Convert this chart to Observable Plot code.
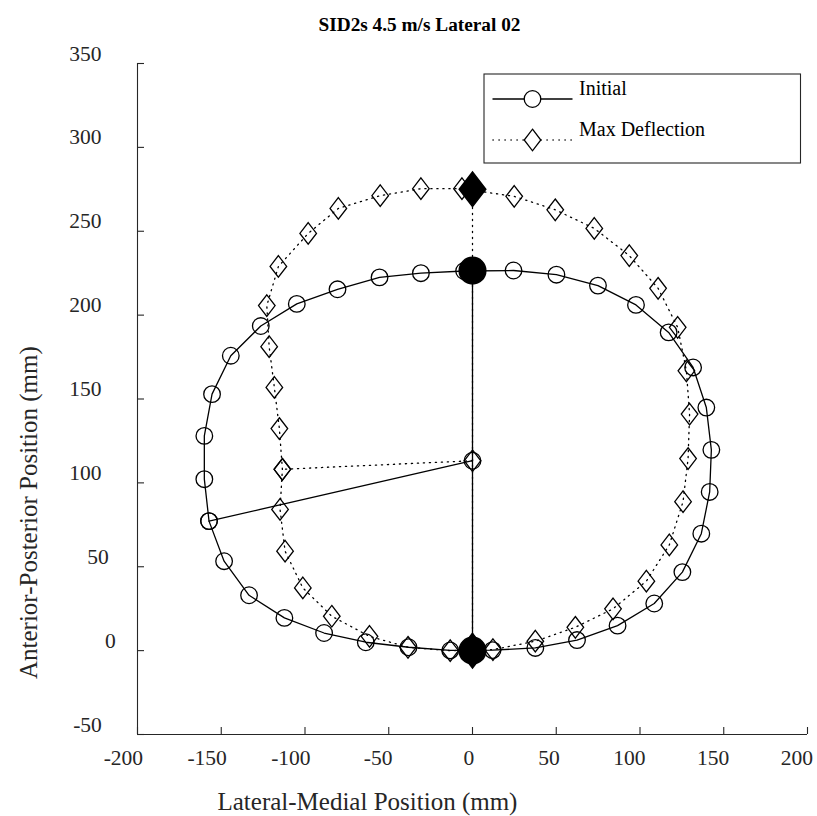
<!DOCTYPE html>
<html>
<head>
<meta charset="utf-8">
<script src="https://cdn.jsdelivr.net/npm/d3@7"></script>
<script src="https://cdn.jsdelivr.net/npm/@observablehq/plot@0.6"></script>
<style>
  html, body { margin: 0; padding: 0; background: #fff; }
  #chart svg { display: block; }
</style>
</head>
<body>
<div id="chart"></div>
<script>
// SID2s 4.5 m/s lateral test 02: thorax contour, initial vs. maximum deflection (mm)

const titleText = "SID2s 4.5 m/s Lateral 02";
const xLabel = "Lateral-Medial Position (mm)";
const yLabel = "Anterior-Posterior Position (mm)";
const seriesNames = ["Initial", "Max Deflection"];

const xTicks = [-200, -150, -100, -50, 0, 50, 100, 150, 200];
const yTicks = [-50, 0, 50, 100, 150, 200, 250, 300, 350];

// Initial contour, starting at the lateral gauge point and running over the anterior side
const initX = [-157.3, -160.1, -160.1, -155.5, -144.3, -126.4, -104.9, -80.6, -55.5, -30.8, -5.0,
  24.5, 50.1, 74.9, 97.6, 117.1, 131.7, 139.6, 142.6, 141.6, 136.6, 125.3, 108.5, 86.6, 62.4,
  37.5, 12.0, -13.3, -38.2, -63.7, -88.6, -112.3, -133.4, -148.3];
const initY = [77.2, 102.2, 128.0, 152.9, 175.8, 193.5, 206.7, 215.4, 222.5, 225.0, 226.3,
  226.6, 224.1, 217.6, 206.1, 189.7, 168.8, 144.9, 119.7, 94.6, 69.7, 46.8, 28.1, 14.9, 6.3,
  1.6, 0.3, 0.1, 2.0, 5.0, 10.5, 19.5, 33.0, 53.3];

// Contour at maximum deflection, same ordering
const defX = [-113.5, -115.3, -118.3, -121.4, -122.8, -115.9, -98.1, -80.1, -55.1, -30.8, -6.3,
  24.9, 49.4, 72.7, 93.6, 110.8, 122.5, 127.7, 129.6, 128.7, 125.7, 117.5, 103.8, 83.9, 61.4,
  37.5, 12.2, -13.3, -38.5, -61.5, -84.0, -101.3, -111.9, -114.9];
const defY = [108.1, 132.4, 156.9, 181.2, 205.7, 229.0, 248.7, 263.6, 271.2, 275.4, 275.4,
  270.8, 262.8, 251.7, 235.5, 216.0, 192.7, 166.8, 141.0, 114.5, 88.8, 63.0, 41.4, 24.9, 13.9,
  5.6, 0.6, 0.0, 2.0, 8.5, 20.5, 37.4, 59.3, 84.2];

// Anterior-posterior axis (anterior point first, posterior point second)
const initApX = [0, 0];
const initApY = [226.5, 0];
const defApX = [0, 0];
const defApY = [275.0, 0];

// Lateral spoke from the contour centre to the lateral point
const initSpokeX = [0, -157.3];
const initSpokeY = [113.2, 77.2];
const defSpokeX = [0, -113.5];
const defSpokeY = [113.2, 108.1];

// ---- drawing ----
const W = 817, H = 816;
const M = {top: 63, right: 10, bottom: 82, left: 137};
const frameW = W - M.left - M.right;
const frameH = H - M.top - M.bottom;
const TICK = 7;
const AXIS = "#262626";
const FONT = "'Liberation Serif', 'Times New Roman', Times, serif";
const TICK_FS = 21.5;
const DOT = "1.2,4.8";

// diamond marker, taller than wide
const tallDiamond = {
  draw(context, size) {
    const r = Math.sqrt(size / Math.PI);
    const h = r * 1.3;
    context.moveTo(0, -h);
    context.lineTo(r, 0);
    context.lineTo(0, h);
    context.lineTo(-r, 0);
    context.closePath();
  }
};

const pts = (xs, ys) => xs.map((x, i) => ({x, y: ys[i]}));
const closed = (p) => p.concat([p[0]]);
const fmt = (v) => String(v);
// nominal label width used to place tick labels
const glyphW = (s) => Array.from(s).reduce((w, c) => w + (c === "-" ? 14 : 17.9), 0);

const initPts = pts(initX, initY);
const defPts = pts(defX, defY);
const initAp = pts(initApX, initApY);
const defAp = pts(defApX, defApY);
const initSpoke = pts(initSpokeX, initSpokeY);
const defSpoke = pts(defSpokeX, defSpokeY);

const chart = Plot.plot({
  width: W,
  height: H,
  marginTop: M.top,
  marginRight: M.right,
  marginBottom: M.bottom,
  marginLeft: M.left,
  x: {domain: [-200, 200], axis: null},
  y: {domain: [-50, 350], axis: null},
  style: {fontFamily: FONT, background: "#fff", overflow: "visible"},
  marks: [
    // axis lines and inward ticks
    Plot.ruleX([-200], {stroke: AXIS, strokeWidth: 1.1}),
    Plot.ruleY([-50], {stroke: AXIS, strokeWidth: 1.1}),
    Plot.ruleX(xTicks, {x: d => d, insetTop: frameH - TICK, stroke: AXIS, strokeWidth: 1.1}),
    Plot.ruleY(yTicks, {y: d => d, insetRight: frameW - TICK, stroke: AXIS, strokeWidth: 1.1}),

    // tick labels
    ...xTicks.map(t => Plot.text([t], {
      x: d => d, text: d => fmt(d), frameAnchor: "bottom",
      textAnchor: "start", lineAnchor: "bottom",
      dx: -glyphW(fmt(t)) / 2, dy: 30,
      fontSize: TICK_FS, fill: AXIS
    })),
    ...yTicks.map(t => Plot.text([t], {
      y: d => d, text: d => fmt(d), frameAnchor: "left",
      textAnchor: "start", lineAnchor: "bottom",
      dx: -14.5 - glyphW(fmt(t)), dy: -3,
      fontSize: TICK_FS, fill: AXIS
    })),

    // title and axis labels
    Plot.text([titleText], {
      text: d => d, frameAnchor: "top-left", textAnchor: "start", lineAnchor: "bottom",
      dx: 181, dy: -33, fontSize: 19.3, fontWeight: "bold", fill: "#000"
    }),
    Plot.text([xLabel], {
      text: d => d, frameAnchor: "bottom-left", textAnchor: "start", lineAnchor: "bottom",
      dx: 80, dy: 75, fontSize: 25, fill: AXIS
    }),
    Plot.text([yLabel], {
      text: d => d, frameAnchor: "left", textAnchor: "start", lineAnchor: "bottom",
      rotate: -90, dx: -101, dy: 280, fontSize: 25, fill: AXIS
    }),

    // contours
    Plot.line(closed(initPts), {x: "x", y: "y", stroke: "#000", strokeWidth: 1.3}),
    Plot.line(closed(defPts), {x: "x", y: "y", stroke: "#000", strokeWidth: 1.3, strokeDasharray: DOT}),

    // anterior-posterior axes and lateral spokes
    Plot.line(defAp, {x: "x", y: "y", stroke: "#000", strokeWidth: 1.3, strokeDasharray: DOT}),
    Plot.line(initAp, {x: "x", y: "y", stroke: "#000", strokeWidth: 1.3}),
    Plot.line(defSpoke, {x: "x", y: "y", stroke: "#000", strokeWidth: 1.3, strokeDasharray: DOT}),
    Plot.line(initSpoke, {x: "x", y: "y", stroke: "#000", strokeWidth: 1.3}),

    // contour markers
    Plot.dot(initPts, {x: "x", y: "y", r: 8.3, symbol: "circle", stroke: "#000", strokeWidth: 1.3, fill: "none"}),
    Plot.dot(defPts, {x: "x", y: "y", r: 8.3, symbol: tallDiamond, stroke: "#000", strokeWidth: 1.3, fill: "none"}),
    Plot.dot(initSpoke, {x: "x", y: "y", r: 8.3, symbol: "circle", stroke: "#000", strokeWidth: 1.3, fill: "none"}),
    Plot.dot(defSpoke, {x: "x", y: "y", r: 8.3, symbol: tallDiamond, stroke: "#000", strokeWidth: 1.3, fill: "none"}),

    // anterior / posterior landmarks
    Plot.dot(initAp, {x: "x", y: "y", r: 13.3, symbol: "circle", fill: "#000", stroke: "#000"}),
    Plot.dot(defAp, {x: "x", y: "y", r: 13.3, symbol: tallDiamond, fill: "#000", stroke: "#000"})
  ]
});

// legend box, upper right
const svg = d3.select(chart);
const lg = svg.append("g");
lg.append("rect")
  .attr("x", 484).attr("y", 74).attr("width", 316.5).attr("height", 89)
  .attr("fill", "#fff").attr("stroke", AXIS).attr("stroke-width", 1.1);
const rows = [
  {name: seriesNames[0], y: 99, dash: null, diamond: false},
  {name: seriesNames[1], y: 140, dash: DOT, diamond: true}
];
rows.forEach(row => {
  lg.append("line")
    .attr("x1", 492.5).attr("x2", 572.5).attr("y1", row.y).attr("y2", row.y)
    .attr("stroke", "#000").attr("stroke-width", 1.3)
    .attr("stroke-dasharray", row.dash);
  const sym = row.diamond ? tallDiamond : d3.symbolCircle;
  lg.append("path")
    .attr("transform", `translate(532.5,${row.y})`)
    .attr("d", d3.symbol(sym, Math.PI * 8.3 * 8.3)())
    .attr("fill", "#fff").attr("stroke", "#000").attr("stroke-width", 1.3);
  lg.append("text")
    .attr("x", 579).attr("y", row.y - 4)
    .attr("text-anchor", "start")
    .style("font-family", FONT)
    .style("font-size", "20px")
    .attr("fill", "#000")
    .text(row.name);
});

document.getElementById("chart").appendChild(chart);
</script>
</body>
</html>
